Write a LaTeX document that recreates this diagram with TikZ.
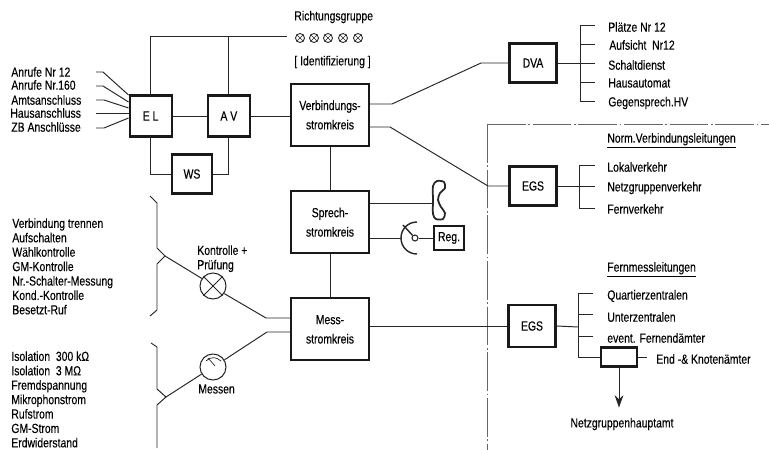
\documentclass[tikz,border=0pt]{standalone}
\usepackage{fontspec}
\setmainfont[FakeStretch=0.79,FakeBold=0.25]{Liberation Sans}
\usetikzlibrary{arrows.meta,positioning,calc}

\begin{document}
\begin{tikzpicture}[
  x=0.02cm, y=-0.02cm,
  font=\fontsize{7.5pt}{8.2pt}\selectfont,
  >={Stealth[length=7pt,width=5pt]},
  link/.style={draw=black!85, line width=0.55pt},
  unit/.style={rectangle, draw=black!90, line width=1.25pt, fill=white, align=center,
               inner sep=0pt, minimum width=1.56cm, minimum height=1.24cm},
  smallunit/.style={rectangle, draw=black!90, line width=1.25pt, fill=white, align=center,
               inner sep=0pt, minimum width=0.84cm, minimum height=0.82cm},
  egsunit/.style={rectangle, draw=black!90, line width=1.25pt, fill=white, align=center,
               inner sep=0pt, minimum width=0.94cm, minimum height=0.78cm},
  lamp/.style={circle, draw=black!85, line width=0.6pt, inner sep=0pt, minimum size=0.52cm},
  dirlamp/.style={circle, draw=black!85, line width=0.5pt, inner sep=0pt, minimum size=0.18cm},
  lbl/.style={anchor=west, inner sep=0pt},
  listlbl/.style={anchor=north west, inner sep=0pt, align=left},
  border/.style={draw=black!60, line width=0.45pt, dash pattern=on 22pt off 1.5pt on 1pt off 1.5pt},
]
\useasboundingbox (0,0) rectangle (769,450);

% main column
\node[unit] (verb) at (330,115) {Verbindungs-\\[2.8pt]stromkreis};
\node[unit, below=0.86cm of verb] (sprech) {Sprech-\\[2.8pt]stromkreis};
\node[unit, below=0.86cm of sprech] (mess) {Mess-\\[2.8pt]stromkreis};

% left group
\node[smallunit, left=0.78cm of verb, yshift=-0.02cm] (av) {A V};
\node[smallunit, left=0.68cm of av] (el) {E L};
\node[smallunit, minimum height=0.78cm, minimum width=0.8cm] (ws) at (192,174) {WS};

% right group
\node[egsunit] (dva) at (533,63) {DVA};
\node[egsunit] (egsa) at (533,186) {EGS};
\node[egsunit, minimum height=0.84cm] (egsb) at (532,326) {EGS};
\node[rectangle, draw=black!90, line width=1.25pt, minimum width=0.72cm, minimum height=0.38cm,
      inner sep=0pt] (end) at (619,357) {};
\node[rectangle, draw=black!90, line width=1.25pt, minimum width=0.6cm, minimum height=0.48cm,
      inner sep=0pt] (reg) at (449,238) {Reg.};

% direction lamps
\node[lbl] (richt) at (294,17) {Richtungsgruppe};
\foreach \n/\lx in {a/300,b/314,c/328,d/343,e/358}{
  \node[dirlamp] (dl\n) at (\lx,38) {};
  \draw[link, line width=0.4pt] (dl\n.45) -- (dl\n.225) (dl\n.135) -- (dl\n.315);
}
\node[lbl] (ident) at (294,62) {[ Identifizierung ]};

% incoming lines
\node[lbl] (nra) at (11,72)  {Anrufe Nr 12};
\node[lbl] (nrb) at (11,85)  {Anrufe Nr.160};
\node[lbl] (amt) at (11,100) {Amtsanschluss};
\node[lbl] (haus) at (10,113) {Hausanschluss};
\node[lbl] (zb)  at (11,127) {ZB Anschlüsse};
\coordinate (ina) at (96,72);
\coordinate (inb) at (96,86);
\coordinate (inc) at (96,100);
\coordinate (ind) at (96,113);
\coordinate (ine) at (96,128);
\draw[link] (ina) -- ++(7,0) -- (el.west |- 0,95);
\draw[link] (inb) -- ++(7,0) -- (el.west |- 0,102);
\draw[link] (inc) -- ++(8,0) -- (el.west |- 0,108);
\draw[link] (ind) -- (el.west |- ind);
\draw[link] (ine) -- ++(8,0) -- (el.west |- 0,118);

% check and measure lists
\node[listlbl] (chk) at (12,218) {Verbindung trennen\\Aufschalten\\Wählkontrolle\\GM-Kontrolle\\Nr.-Schalter-Messung\\Kond.-Kontrolle\\Besetzt-Ruf};
\node[listlbl] (mes) at (11,351) {Isolation\ \ 300 kΩ\\Isolation\ \ 3 MΩ\\Fremdspannung\\Mikrophonstrom\\Rufstrom\\GM-Strom\\Erdwiderstand};
\coordinate (chktip) at (165,256);
\coordinate (mestip) at (166,397);
\draw[link] (150,196) -- (157,203) -- (157,248) -- (chktip) -- (157,264) -- (157,310) -- (150,316);
\draw[link] (151,343) -- (157,347) -- (157,389) -- (mestip) -- (157,405) -- (157,448);

\node[lamp] (kon) at (213,286) {};
\draw[link] (kon.45) -- (kon.225) (kon.135) -- (kon.315);
\node[lamp] (gauge) at (213,367) {};
\draw[link, line width=0.4pt] (206,361) .. controls (212,356) and (216,357) .. (221,361);
\draw[link, line width=0.4pt] (208,358) -- (215,366);
\node[listlbl] (konlbl) at (197,245) {Kontrolle +\\Prüfung};
\node[lbl] (messen) at (198,389) {Messen};

% speaker and handset
\coordinate (spk) at (401,238);
\coordinate (hset) at (432,203);
\node[circle, draw=black!85, line width=0.6pt, inner sep=0pt, minimum size=0.12cm] (spkdot) at (415,238) {};
\draw[link, line width=0.8pt] (417,222) .. controls (408,222) and (401,229) .. (spk)
   .. controls (401,247) and (408,254) .. (417,254);
\draw[link, line width=0.8pt] (spkdot) -- (403,225);
\draw[link, line width=1pt] plot[smooth cycle] coordinates
   {(433,186) (437,181) (444,182) (445,188) (440,193) (438,200) (441,207) (445,213) (443,219) (436,219) (433,214) (433,200)};

% right lists
\node[lbl] (plaetze) at (608,27) {Plätze Nr 12};
\node[lbl] (aufs) at (609,45) {Aufsicht\ \ Nr12};
\node[lbl] (schalt) at (608,65) {Schaltdienst};
\node[lbl] (hausa) at (608,83) {Hausautomat};
\node[lbl] (gegen) at (608,103) {Gegensprech.HV};
\node[lbl] (normv) at (607,141) {\underline{Norm.Verbindungsleitungen}};
\node[lbl] (lokal) at (607,167) {Lokalverkehr};
\node[lbl] (netz) at (607,188) {Netzgruppenverkehr};
\node[lbl] (fern) at (607,209) {Fernverkehr};
\node[lbl] (fernm) at (607,270) {\underline{Fernmessleitungen}};
\node[lbl] (quart) at (607,296) {Quartierzentralen};
\node[lbl] (unter) at (607,317) {Unterzentralen};
\node[lbl] (event) at (607,338) {event. Fernendämter};
\node[lbl] (knot) at (656,359) {End -\& Knotenämter};
\node[inner sep=0pt] (hauptamt) at (622,424) {Netzgruppenhauptamt};

% frame of the lines
\coordinate (frtl) at (487,124);
\draw[border] (frtl) -- (769,124);
\draw[border] (frtl) -- (487,450);

% main flow
\draw[link] (el) -- (av);
\draw[link] (av) -- (av -| verb.west);
\draw[link] (verb) -- (sprech);
\draw[link] (sprech) -- (mess);
\draw[link] (el.south) |- (ws.west);
\draw[link] (ws.east) -| (av.south);
\coordinate (dirend) at (287,36);
\draw[link] (el.north) |- (dirend);
\draw[link] (av.north) -- (av.north |- dirend);

% out of the main column
\draw[link] (verb.east |- 0,104) -- (392,104) -- (481,63) -- (dva.west);
\draw[link] (verb.east |- 0,127) -- (390,127) -- (488,186) -- (egsa.west);
\draw[link] (mess.east |- egsb) -- (egsb.west);
\draw[link] (sprech.east |- hset) -- (hset);
\draw[link] (sprech.east |- spk) -- (spk);
\draw[link] (spkdot) -- (reg);

% lamps to measuring circuit
\draw[link] (chktip) -- (kon.146);
\draw[link] (kon.326) -- (266,318) -- (mess.west |- 0,318);
\draw[link] (mestip) -- (gauge.212);
\draw[link] (gauge.32) -- (267,332) -- (mess.west |- 0,332);

% DVA outputs
\coordinate (dvabus) at (580,63);
\draw[link] (dva.east) -- (dvabus);
\draw[link] (dvabus |- 0,25) -- (dvabus |- 0,101);
\foreach \ly in {25,44,63,82,101}
  \draw[link] (dvabus |- 0,\ly) -- ++(15,0);

% first EGS outputs
\coordinate (egsabus) at (579,186);
\draw[link] (egsa.east) -- (egsabus);
\draw[link] (egsabus |- 0,165) -- (egsabus |- 0,208);
\foreach \ly in {165,186,208}
  \draw[link] (egsabus |- 0,\ly) -- ++(16,0);

% second EGS outputs
\coordinate (egsbbus) at (578,327);
\draw[link] (egsb.east) -- (egsbbus);
\draw[link] (egsbbus |- 0,293) -- (egsbbus |- 0,357) -- (end.west);
\foreach \ly in {293,314,336}
  \draw[link] (egsbbus |- 0,\ly) -- ++(15,0);
\coordinate (endout) at (647,357);
\draw[link] (end.east) -- (endout);
\draw[link, ->, shorten >=0.2cm] (end.south) -- (hauptamt.north -| end.south);

\end{tikzpicture}
\end{document}
